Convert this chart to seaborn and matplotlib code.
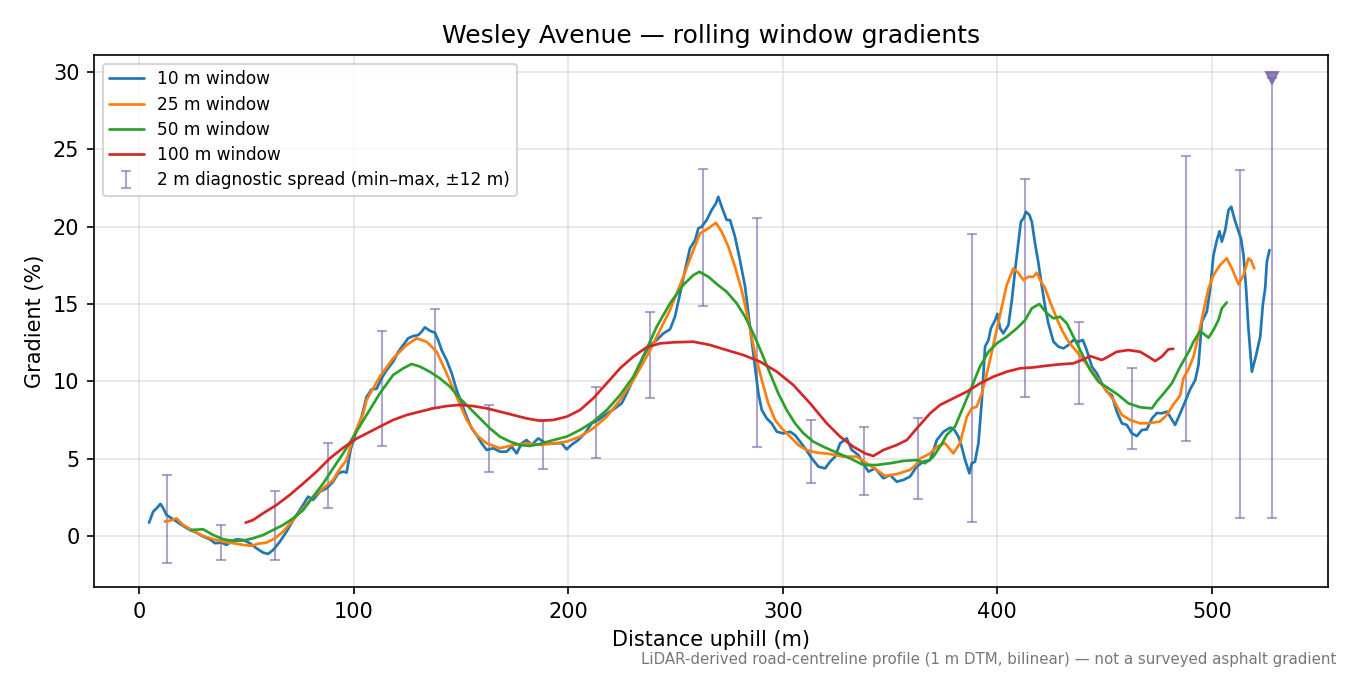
import matplotlib
matplotlib.use("Agg")
import matplotlib.pyplot as plt
import seaborn as sns
import pandas as pd

# ---------------- data ----------------
w10_x = [4.5, 6.4, 8.0, 9.8, 11.1, 12.6, 15.0, 17.3, 20.4, 23.5, 26.6, 29.7, 32.8, 35.2, 38.3, 40.6,
         43.0, 45.3, 48.4, 51.5, 54.6, 57.7, 60.0, 62.4, 65.5, 68.6, 71.7, 74.8, 78.7, 81.0, 84.1,
         87.3, 90.3, 92.7, 95.0, 96.6, 98.5, 101.3, 103.6, 105.9, 108.3, 110.6, 112.9, 115.3, 118.3,
         120.7, 123.0, 125.3, 127.7, 130.0, 131.6, 133.1, 135.4, 137.8, 139.3, 140.9, 143.2, 145.6,
         147.9, 150.2, 152.6, 154.9, 157.2, 159.6, 161.9, 165.0, 168.1, 171.2, 173.6, 175.9, 178.2,
         180.5, 182.9, 186.0, 188.3, 190.6, 193.7, 196.9, 199.2, 201.5, 204.6, 207.7, 210.9, 213.9,
         217.1, 219.4, 221.7, 224.9, 227.2, 229.5, 232.5, 234.9, 238.1, 241.2, 244.3, 247.4, 249.7,
         252.1, 254.4, 256.7, 259.1, 260.6, 262.2, 264.5, 266.8, 268.8, 269.9, 271.5, 273.8, 275.4,
         277.7, 280.0, 282.4, 284.7, 287.0, 288.6, 290.2, 292.5, 294.8, 297.2, 300.2, 303.4, 305.7,
         308.0, 310.4, 313.5, 316.6, 319.7, 322.0, 324.4, 326.7, 329.8, 332.1, 335.2, 337.5, 339.9,
         343.0, 346.9, 350.0, 353.1, 356.2, 359.3, 362.4, 365.5, 368.7, 371.8, 374.9, 378.0, 379.5,
         381.9, 383.4, 385.0, 387.0, 388.1, 389.6, 391.2, 392.8, 394.3, 395.9, 397.0, 399.0, 400.0,
         401.3, 402.8, 405.2, 406.8, 408.3, 409.8, 411.0, 412.2, 413.4, 415.0, 416.1, 417.6, 419.2,
         420.8, 422.3, 423.8, 426.2, 428.5, 430.8, 433.2, 435.5, 437.8, 439.9, 441.7, 444.1, 446.4,
         448.7, 451.1, 453.4, 455.7, 458.1, 460.4, 462.7, 465.1, 467.4, 469.7, 472.1, 474.4, 476.7,
         479.1, 480.6, 482.9, 485.3, 487.6, 490.0, 492.3, 493.8, 495.4, 497.7, 499.3, 500.8, 502.4,
         503.6, 504.7, 506.3, 507.8, 509.1, 510.5, 512.0, 513.6, 514.8, 516.0, 517.1, 518.7, 520.7,
         522.6, 523.8, 524.9, 525.7, 526.9]
w10_y = [0.86, 1.57, 1.79, 2.07, 1.79, 1.36, 1.14, 0.93, 0.65, 0.39, 0.21, -0.04, -0.21, -0.47, -0.43, -0.58,
         -0.34, -0.21, -0.26, -0.47, -0.80, -1.08, -1.16, -0.90, -0.37, 0.28, 1.03, 1.68, 2.54, 2.33, 2.86,
         3.08, 3.51, 4.05, 4.16, 4.10, 5.60, 6.85, 7.71, 9.00, 9.48, 9.52, 10.19, 10.73, 11.27,
         11.91, 12.35, 12.78, 12.93, 12.99, 13.21, 13.49, 13.27, 13.14, 12.67, 12.02, 11.38, 10.52,
         9.44, 8.58, 7.71, 6.96, 6.53, 5.99, 5.56, 5.67, 5.45, 5.45, 5.77, 5.34, 5.99,
         6.20, 5.90, 6.31, 6.10, 5.95, 5.99, 5.99, 5.60, 5.90, 6.20, 6.64, 7.28, 7.50,
         7.82, 8.04, 8.25, 8.58, 9.22, 9.90, 10.80, 11.60, 12.35, 12.67, 13.10, 13.36, 14.18,
         15.69, 17.19, 18.60, 19.13, 19.89, 20.00, 20.43, 21.07, 21.50, 21.93, 21.29, 20.43, 20.43,
         19.35, 17.84, 16.12, 13.53, 10.95, 9.22, 8.14, 7.60, 7.28, 6.74, 6.63, 6.74, 6.52,
         6.10, 5.67, 5.02, 4.48, 4.37, 4.80, 5.13, 5.99, 6.31, 5.56, 5.24, 4.70, 4.16,
         4.37, 3.73, 3.94, 3.51, 3.62, 3.84, 4.48, 4.80, 4.91, 6.20, 6.74, 7.00, 6.96,
         6.42, 5.77, 4.91, 4.05, 4.70, 4.80, 5.99, 8.79, 12.24, 12.67, 13.42, 13.96, 14.35,
         13.42, 13.10, 13.64, 15.26, 17.19, 18.92, 20.32, 20.54, 20.96, 20.75, 20.32, 18.92, 17.63,
         16.12, 14.82, 13.75, 12.56, 12.24, 12.13, 12.35, 12.67, 12.56, 12.67, 12.02, 10.95, 10.52,
         9.87, 9.33, 9.11, 8.04, 7.28, 7.18, 6.64, 6.46, 6.85, 6.89, 7.60, 7.95, 7.93,
         8.04, 7.71, 7.18, 7.93, 8.70, 9.50, 10.08, 11.05, 13.85, 14.50, 16.01, 18.16, 19.13,
         19.70, 19.03, 19.78, 21.07, 21.29, 20.54, 19.89, 19.24, 18.16, 16.01, 13.42, 10.62, 11.70,
         12.88, 14.93, 16.01, 17.73, 18.49]

w25_x = [11.8, 14.5, 17.3, 20.4, 25.0, 29.7, 34.4, 39.0, 43.7, 48.4, 52.3, 55.4, 59.3, 63.2, 67.0, 71.7,
         76.4, 81.0, 85.7, 90.3, 93.5, 96.6, 99.7, 104.3, 105.9, 112.1, 118.3, 124.6, 129.2, 133.9,
         138.6, 143.2, 147.9, 152.6, 157.2, 161.9, 168.1, 174.3, 180.5, 186.8, 193.0, 199.2, 205.4,
         211.6, 217.9, 224.1, 230.3, 236.5, 241.2, 247.4, 253.6, 258.3, 261.4, 265.3, 268.8, 271.5,
         274.6, 277.7, 280.8, 283.9, 287.0, 290.2, 293.2, 296.4, 299.5, 303.4, 307.2, 311.1, 315.8,
         322.0, 328.2, 334.5, 339.1, 343.8, 347.7, 353.1, 359.3, 362.0, 364.0, 368.7, 371.8, 375.6,
         379.5, 382.6, 385.8, 388.1, 390.4, 392.8, 395.9, 399.0, 402.1, 404.4, 407.5, 409.8, 412.2,
         414.5, 416.8, 418.4, 420.0, 422.3, 424.6, 427.7, 430.1, 433.2, 437.1, 440.2, 444.8, 449.5,
         454.2, 458.1, 461.9, 466.6, 471.2, 475.9, 479.0, 482.1, 485.3, 486.8, 489.2, 491.5, 493.8,
         496.1, 498.5, 500.8, 503.9, 507.0, 509.4, 512.5, 514.8, 517.1, 518.4, 519.8]
w25_y = [0.93, 1.00, 1.14, 0.71, 0.34, 0.00, -0.21, -0.37, -0.47, -0.58, -0.64, -0.50, -0.43, -0.15, 0.28, 1.03,
         1.79, 2.54, 3.08, 3.62, 4.35, 4.91, 6.40, 7.90, 8.79, 10.30, 11.49, 12.35, 12.78, 12.56,
         11.91, 10.52, 9.00, 7.50, 6.53, 5.99, 5.67, 5.88, 5.99, 5.88, 5.99, 6.10, 6.42,
         6.96, 7.71, 8.79, 10.08, 11.59, 12.88, 14.61, 16.76, 18.49, 19.57, 19.89, 20.25, 19.67,
         18.70, 17.41, 15.90, 13.96, 11.81, 10.08, 8.58, 7.50, 6.96, 6.42, 5.88, 5.56, 5.39,
         5.30, 5.13, 5.13, 4.70, 4.27, 3.88, 4.00, 4.27, 4.60, 5.00, 5.34, 5.77, 6.00,
         5.34, 6.00, 7.71, 8.25, 8.36, 9.22, 10.95, 12.88, 14.82, 16.23, 17.30, 17.00, 16.55,
         16.76, 16.76, 17.02, 16.55, 16.01, 15.15, 14.07, 13.32, 12.56, 11.91, 11.38, 10.52, 9.65,
         8.79, 7.82, 7.50, 7.28, 7.30, 7.40, 7.82, 8.50, 9.10, 10.20, 10.80, 11.59, 12.99,
         14.50, 16.01, 16.87, 17.52, 17.95, 17.30, 16.27, 16.87, 17.95, 17.80, 17.30]

w50_x = [24.3, 29.7, 34.4, 39.0, 43.7, 48.4, 53.0, 57.7, 62.4, 67.0, 71.7, 76.4, 81.0, 85.7, 90.3, 95.0,
         99.7, 105.9, 112.1, 118.3, 123.0, 126.9, 130.8, 135.4, 140.1, 144.8, 149.4, 154.1, 158.8,
         163.4, 168.1, 172.8, 177.4, 182.1, 186.8, 193.0, 199.2, 205.4, 211.6, 217.9, 224.1, 230.3,
         234.9, 241.2, 247.4, 253.6, 258.3, 261.1, 265.3, 269.2, 273.8, 278.5, 282.4, 286.2, 290.2,
         294.0, 297.9, 301.8, 305.7, 309.6, 314.2, 318.9, 325.1, 331.3, 337.5, 343.8, 350.0, 356.2,
         362.4, 366.3, 370.2, 374.1, 376.4, 380.3, 384.2, 388.1, 391.9, 395.9, 399.8, 404.4, 409.1,
         413.0, 416.1, 419.6, 423.1, 426.2, 429.3, 432.4, 435.5, 439.4, 443.3, 447.2, 451.8, 456.5,
         461.1, 466.6, 472.1, 474.4, 477.5, 481.4, 485.3, 489.6, 491.5, 494.6, 498.5, 500.8, 503.1,
         504.7, 507.0]
w50_y = [0.39, 0.43, 0.06, -0.21, -0.32, -0.30, -0.15, 0.06, 0.39, 0.71, 1.14, 1.68, 2.54, 3.40, 4.37, 5.34,
         6.40, 7.82, 9.22, 10.41, 10.84, 11.12, 10.95, 10.62, 10.19, 9.65, 8.90, 8.25, 7.60,
         6.96, 6.42, 6.10, 5.88, 5.82, 5.95, 6.20, 6.42, 6.85, 7.39, 8.14, 9.11, 10.30,
         11.60, 13.53, 15.04, 16.23, 16.87, 17.08, 16.76, 16.29, 15.79, 15.04, 14.18, 13.10, 11.81,
         10.52, 9.22, 8.14, 7.28, 6.64, 6.10, 5.77, 5.39, 5.02, 4.59, 4.59, 4.70, 4.85,
         4.91, 4.70, 5.13, 5.95, 6.53, 7.07, 8.36, 9.65, 10.95, 11.91, 12.46, 12.88, 13.42,
         13.96, 14.72, 15.00, 14.40, 14.07, 14.18, 13.75, 12.88, 11.81, 10.73, 9.97, 9.55, 9.11,
         8.58, 8.32, 8.25, 8.70, 9.20, 9.87, 10.95, 12.00, 12.56, 13.25, 12.82, 13.32, 13.96,
         14.72, 15.10]

w100_x = [49.5, 53.0, 57.7, 63.9, 70.1, 76.4, 82.6, 88.8, 95.0, 101.3, 107.5, 113.7, 118.3, 124.6, 130.8,
          137.0, 143.2, 149.4, 155.6, 161.9, 168.1, 174.3, 180.5, 186.8, 193.0, 199.2, 205.4, 211.6,
          217.9, 224.1, 230.3, 236.5, 242.7, 248.9, 258.3, 266.0, 273.8, 281.6, 289.4, 297.2, 304.9,
          312.7, 320.5, 326.7, 332.9, 338.3, 342.2, 346.9, 353.1, 357.8, 363.2, 368.7, 373.3, 379.5,
          385.8, 392.0, 398.2, 404.4, 410.6, 416.8, 423.1, 429.3, 435.5, 440.2, 443.3, 446.4, 448.7,
          451.8, 455.7, 461.1, 466.6, 470.5, 473.6, 476.7, 479.8, 482.1]
w100_y = [0.86, 1.03, 1.47, 2.00, 2.65, 3.40, 4.16, 5.02, 5.70, 6.30, 6.74, 7.18, 7.50, 7.82, 8.04,
          8.25, 8.40, 8.47, 8.40, 8.25, 8.04, 7.82, 7.60, 7.45, 7.50, 7.71, 8.14, 8.90,
          9.87, 10.84, 11.60, 12.20, 12.45, 12.52, 12.56, 12.35, 12.02, 11.70, 11.27, 10.62, 9.76,
          8.58, 7.28, 6.42, 5.77, 5.34, 5.17, 5.56, 5.88, 6.20, 7.07, 7.93, 8.47, 8.90,
          9.33, 9.87, 10.30, 10.62, 10.84, 10.90, 11.01, 11.10, 11.16, 11.42, 11.63, 11.49, 11.38,
          11.60, 11.91, 12.02, 11.91, 11.59, 11.31, 11.60, 12.07, 12.10]

spread_x = [13, 38, 63, 88, 113, 138, 163, 188, 213, 238, 263, 288, 313, 338, 363, 388, 413, 438,
            463, 488, 513, 528]
spread_min = [-1.72, -1.53, -1.53, 1.83, 5.84, 8.25, 4.16, 4.33, 5.06, 8.89, 14.89, 5.73, 3.40, 2.67,
              2.41, 0.93, 8.99, 8.55, 5.64, 6.15, 1.14, 1.14]
spread_max = [3.94, 0.71, 2.93, 6.03, 13.25, 14.67, 8.47, 7.50, 9.65, 14.48, 23.72, 20.56, 7.52, 7.07,
              7.65, 19.54, 23.08, 13.83, 10.88, 24.58, 23.66, 29.6]
# last spread runs off the top of the axis: marked with a triangle at the clip value
clip_x = [528]
clip_y = [29.6]

series_labels = ["10 m window", "25 m window", "50 m window", "100 m window"]
series_colors = ["#1f77b4", "#ff7f0e", "#2ca02c", "#d62728"]
spread_label = "2 m diagnostic spread (min\u2013max, \u00b112 m)"

# ---------------- plot ----------------
sns.set_theme(style="ticks", rc={
    "text.color": "black", "axes.labelcolor": "black", "xtick.color": "black",
    "ytick.color": "black", "axes.edgecolor": "black",
})
plt.rcParams["font.family"] = ["DejaVu Sans"]

fig = plt.figure(figsize=(9, 4.5), dpi=150)
ax = fig.add_axes([0.0696, 0.1304, 0.9141, 0.7881])

frames = []
for lab, xs, ys in zip(series_labels, [w10_x, w25_x, w50_x, w100_x], [w10_y, w25_y, w50_y, w100_y]):
    frames.append(pd.DataFrame({"x": xs, "y": ys, "series": lab}))
df = pd.concat(frames, ignore_index=True)

for lab, col in zip(series_labels, series_colors):
    sub = df[df["series"] == lab]
    sns.lineplot(data=sub, x="x", y="y", ax=ax, color=col, lw=1.3, label=lab,
                 sort=False, estimator=None)

sp = pd.DataFrame({"x": spread_x, "lo": spread_min, "hi": spread_max})
mid = (sp["lo"] + sp["hi"]) / 2
half = (sp["hi"] - sp["lo"]) / 2
ax.errorbar(sp["x"], mid, yerr=half, fmt="none", ecolor="#7a6aa8", alpha=0.6,
            elinewidth=1.0, capsize=2.2, capthick=1.0, label=spread_label, zorder=1)
ax.plot(clip_x, clip_y, marker="v", ls="none", color="#7a6aa8", alpha=0.85, markersize=6, zorder=3)

ax.set_xlim(-21.2, 554.2)
ax.set_ylim(-3.3, 31.1)
ax.set_xticks([0, 100, 200, 300, 400, 500])
ax.set_yticks([0, 5, 10, 15, 20, 25, 30])
ax.grid(True, color="#cccccc", alpha=0.5, lw=0.8)
for s in ax.spines.values():
    s.set_visible(True)
    s.set_color("black")
    s.set_linewidth(0.8)
ax.tick_params(axis="both", labelsize=10, direction="out", length=3.5, width=0.8,
               color="black", labelcolor="black")

ax.set_xlabel("Distance uphill (m)", fontsize=10, color="black")
ax.set_ylabel("Gradient (%)", fontsize=10, color="black")
ax.set_title("Wesley Avenue \u2014 rolling window gradients", fontsize=12, color="black")

leg = ax.legend(loc="upper left", fontsize=8.2, labelspacing=0.42, frameon=True,
                framealpha=0.8, edgecolor="#cccccc")
for t in leg.get_texts():
    t.set_color("black")

fig.text(0.99, 0.012, "LiDAR-derived road-centreline profile (1 m DTM, bilinear) \u2014 not a surveyed asphalt gradient",
         ha="right", va="bottom", fontsize=7.2, color="#777777")

fig.savefig("out.png", dpi=150)
